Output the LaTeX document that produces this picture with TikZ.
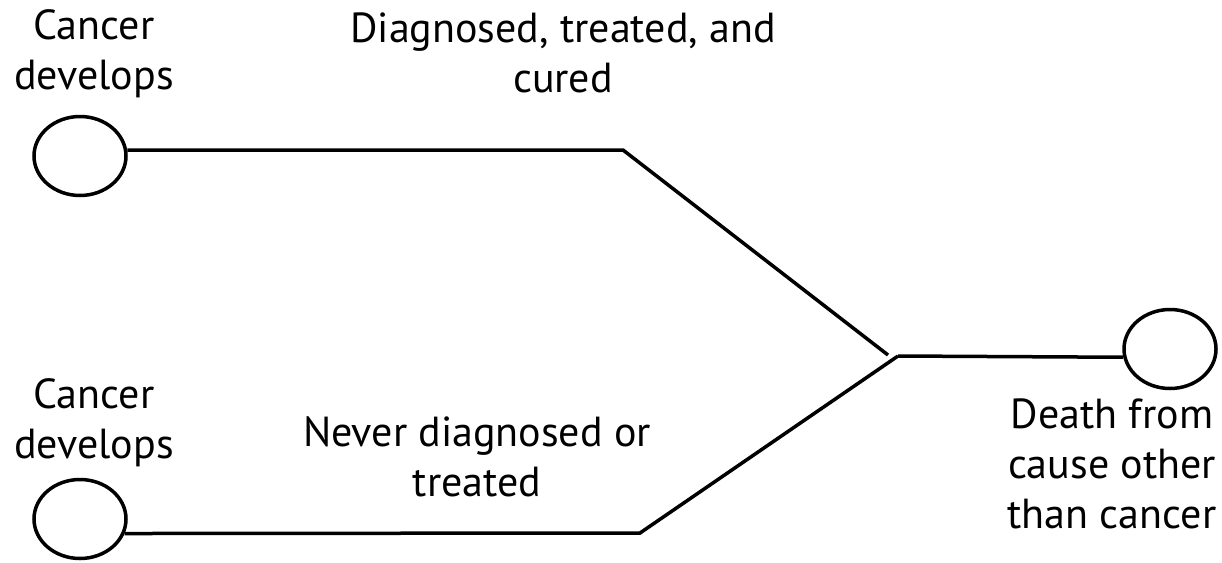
\documentclass[tikz,border=0pt]{standalone}
\usepackage{fontspec}
\setmainfont{PT Sans}
\usetikzlibrary{shapes.geometric}
\begin{document}
\begin{tikzpicture}[x=1pt,y=-1pt,
  state/.style={draw,ellipse,line width=3.5pt,minimum width=92pt,minimum height=79pt,inner sep=0pt},
  path/.style={line width=3.5pt},
  lbl/.style={align=center,anchor=base,inner sep=0pt,font=\fontsize{42}{50}\selectfont}]
\useasboundingbox (0,0) rectangle (1222,562);
\node[state] (e1) at (80,156) {};
\node[state] (e2) at (80,519) {};
\node[state] (e3) at (1170,349) {};
\coordinate (c1) at (623,150);
\coordinate (j1) at (888,355);
\coordinate (c2) at (640,533);
\coordinate (j2) at (898,356);
\draw[path] (e1.7) -- (c1) -- (j1);
\draw[path] (e2.-18) -- (c2) -- (j2);
\draw[path] (j2) -- (e3.190);
\node[lbl] (t1) at (94,89) {Cancer\\develops};
\node[lbl] (t2) at (94,458) {Cancer\\develops};
\node[lbl] (t3) at (563,92) {Diagnosed, treated, and\\cured};
\node[lbl] (t4) at (477,496) {Never diagnosed or\\treated};
\node[lbl] (t5) at (1112,528) {Death from\\cause other\\than cancer};
\end{tikzpicture}
\end{document}
